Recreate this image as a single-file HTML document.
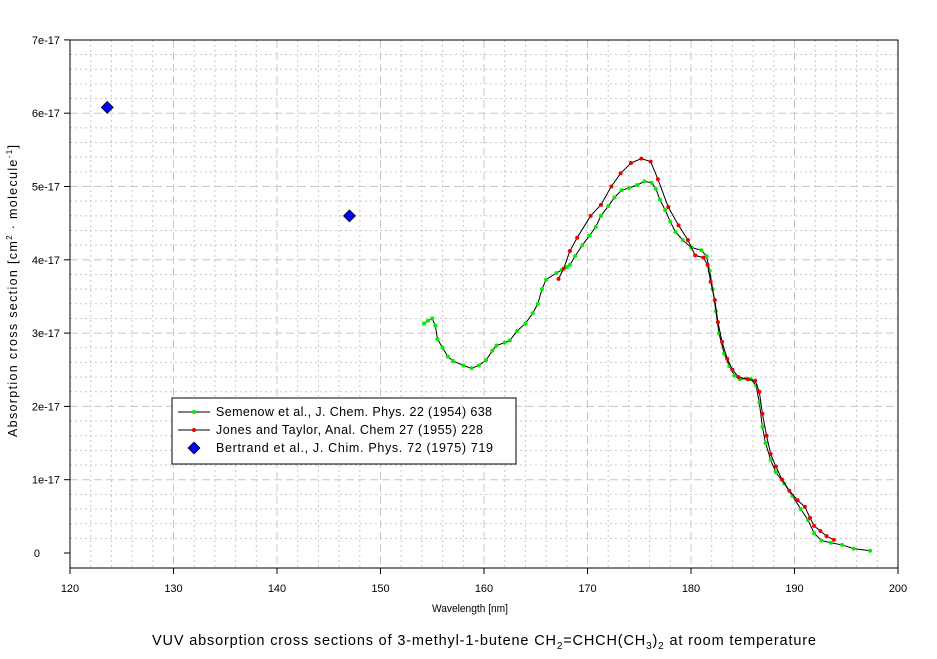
<!DOCTYPE html><html><head><meta charset="utf-8"><style>body{margin:0;background:#fff}svg{display:block;font-family:"Liberation Sans",sans-serif}</style></head><body>
<svg id="s" width="937" height="659" xmlns="http://www.w3.org/2000/svg">
<rect width="937" height="659" fill="#fff"/>
<g id="grid"></g>
<rect x="70" y="40" width="828" height="528" fill="none" stroke="#000" stroke-width="1"/>
<g id="ticks" font-size="11"></g>
<g id="data"></g>
<text x="432" y="612" font-size="11" textLength="76" lengthAdjust="spacingAndGlyphs">Wavelength [nm]</text>
<text transform="translate(17,437) rotate(-90)" font-size="12.5" textLength="292" lengthAdjust="spacing">Absorption cross section [cm<tspan font-size="8" dy="-5">2</tspan><tspan dy="5"> · molecule</tspan><tspan font-size="8" dy="-5">-1</tspan><tspan dy="5">]</tspan></text>
<text x="152" y="645" font-size="14.5" textLength="664" lengthAdjust="spacing">VUV absorption cross sections of 3-methyl-1-butene CH<tspan font-size="10" dy="4">2</tspan><tspan dy="-4">=CHCH(CH</tspan><tspan font-size="10" dy="4">3</tspan><tspan dy="-4">)</tspan><tspan font-size="10" dy="4">2</tspan><tspan dy="-4"> at room temperature</tspan></text>
<g>
<rect x="172" y="398" width="344" height="66" fill="#fff" stroke="#000"/>
<line x1="178" y1="412" x2="210" y2="412" stroke="#000"/><circle cx="194" cy="412" r="2" fill="#0e0"/>
<text x="216" y="416" font-size="12.5" textLength="276" lengthAdjust="spacing">Semenow et al., J. Chem. Phys. 22 (1954) 638</text>
<line x1="178" y1="430" x2="210" y2="430" stroke="#000"/><circle cx="194" cy="430" r="2" fill="#e00"/>
<text x="216" y="434" font-size="12.5" textLength="267" lengthAdjust="spacing">Jones and Taylor, Anal. Chem 27 (1955) 228</text>
<path d="M194 442 L200 448 L194 454 L188 448Z" fill="#00f" stroke="#000" stroke-width="0.7"/>
<text x="216" y="452" font-size="12.5" textLength="277" lengthAdjust="spacing">Bertrand et al., J. Chim. Phys. 72 (1975) 719</text>
</g>
</svg>
<script>
const NS="http://www.w3.org/2000/svg";
const X=w=>70+(w-120)*10.35, Y=v=>553-v*73.3;
function el(t,a,p){const e=document.createElementNS(NS,t);for(const k in a)e.setAttribute(k,a[k]);document.getElementById(p).appendChild(e);return e;}
for(let w=122;w<200;w+=2){const x=X(w);const maj=w%10==0;el('line',{x1:x,y1:40,x2:x,y2:568,stroke:'#c8c8c8','stroke-dasharray':maj?'8,4':'2,3'},'grid');}
for(let i=1;i<35;i++){const v=i*0.2;const y=Y(v);const maj=i%5==0;el('line',{x1:70,y1:y,x2:898,y2:y,stroke:'#c8c8c8','stroke-dasharray':maj?'8,4':'2,3'},'grid');}
for(let w=120;w<=200;w+=10){const x=X(w);el('line',{x1:x,y1:568,x2:x,y2:574,stroke:'#000'},'ticks');const t=el('text',{x:x,y:592,'text-anchor':'middle'},'ticks');t.textContent=w;}
for(let i=0;i<=7;i++){const y=Y(i);el('line',{x1:64,y1:y,x2:70,y2:y,stroke:'#000'},'ticks');const t=el('text',{x:i==0?40:60,y:y+4,'text-anchor':'end'},'ticks');t.textContent=i==0?'0':i+'e-17';}
const G=[[154.2,3.13],[154.6,3.17],[155.0,3.2],[155.3,3.1],[155.5,2.92],[156,2.8],[156.5,2.68],[157,2.62],[158,2.56],[158.8,2.52],[159.5,2.56],[160.2,2.63],[160.8,2.76],[161.2,2.83],[162,2.87],[162.5,2.9],[163.2,3.03],[164,3.13],[164.7,3.27],[165.2,3.4],[165.6,3.6],[166,3.73],[167,3.82],[167.5,3.86],[168,3.9],[168.3,3.93],[168.8,4.05],[169.5,4.2],[170.2,4.33],[170.8,4.45],[171.3,4.6],[172,4.73],[172.6,4.85],[173.3,4.95],[174,4.98],[174.8,5.02],[175.5,5.07],[176.2,5.05],[176.6,4.97],[177,4.82],[177.5,4.68],[178,4.52],[178.5,4.38],[179.2,4.27],[180,4.17],[181,4.13],[181.5,4.05],[181.8,3.85],[182.1,3.6],[182.4,3.3],[182.7,3.0],[183.2,2.72],[183.7,2.55],[184.2,2.42],[184.7,2.37],[185.3,2.38],[185.8,2.37],[186.3,2.28],[186.6,2.05],[186.9,1.72],[187.2,1.5],[187.7,1.27],[188.2,1.1],[189,0.95],[189.8,0.78],[190.6,0.6],[191.3,0.45],[191.9,0.27],[192.6,0.17],[193.5,0.14],[194.6,0.11],[195.7,0.06],[197.3,0.03]];
const R=[[167.2,3.74],[167.7,3.88],[168.3,4.12],[169,4.3],[170.3,4.6],[171.3,4.75],[172.3,5.0],[173.2,5.18],[174.2,5.32],[175.2,5.38],[176.1,5.34],[176.8,5.1],[177.8,4.72],[178.8,4.47],[179.7,4.27],[180.4,4.06],[181.2,4.03],[181.6,3.93],[181.9,3.7],[182.3,3.45],[182.6,3.15],[183,2.88],[183.5,2.65],[184,2.5],[184.6,2.4],[185.5,2.37],[186.2,2.35],[186.6,2.2],[186.9,1.9],[187.3,1.6],[187.7,1.35],[188.2,1.18],[188.8,1.0],[189.5,0.85],[190.3,0.72],[191,0.63],[191.5,0.48],[191.9,0.37],[192.5,0.3],[193.1,0.23],[193.8,0.18]];
function series(d,c){el('polyline',{points:d.map(p=>X(p[0])+','+Y(p[1])).join(' '),fill:'none',stroke:'#000','stroke-width':1},'data');d.forEach(p=>el('circle',{cx:X(p[0]),cy:Y(p[1]),r:2,fill:c},'data'));}
series(G,'#0e0');series(R,'#e00');
[[123.6,6.08],[147,4.6]].forEach(p=>{const x=X(p[0]),y=Y(p[1]);el('path',{d:`M${x} ${y-6}L${x+6} ${y}L${x} ${y+6}L${x-6} ${y}Z`,fill:'#00f',stroke:'#000','stroke-width':0.7},'data');});
</script>
</body></html>
